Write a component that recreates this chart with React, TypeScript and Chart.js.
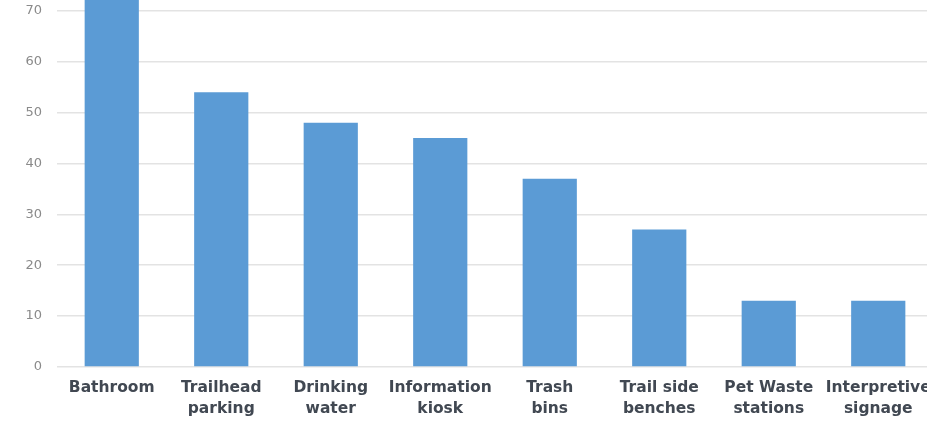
import { useEffect, useRef } from 'react';
import { Chart, registerables } from 'chart.js';
Chart.register(...registerables);

const categories: string[][] = [
  ['Bathroom'],
  ['Trailhead', 'parking'],
  ['Drinking', 'water'],
  ['Information', 'kiosk'],
  ['Trash', 'bins'],
  ['Trail side', 'benches'],
  ['Pet Waste', 'stations'],
  ['Interpretive', 'signage'],
];
const values: number[] = [77, 54, 48, 45, 37, 27, 13, 13];
const yMin = 0;
const yMax = 80;
const yStep = 10;

export default function App() {
  const ref = useRef<HTMLCanvasElement>(null);
  useEffect(() => {
    document.documentElement.style.overflow = 'hidden';
    document.body.style.margin = '0';
    const chart = new Chart(ref.current!, {
      type: 'bar',
      data: {
        labels: categories,
        datasets: [
          {
            data: values,
            backgroundColor: '#5b9bd5',
            borderWidth: 0,
            categoryPercentage: 1,
            barPercentage: 0.495,
          },
        ],
      },
      options: {
        responsive: false,
        animation: false,
        layout: { padding: 0 },
        plugins: { legend: { display: false }, tooltip: { enabled: false } },
        scales: {
          x: {
            grid: { display: false },
            border: { display: false },
            afterFit: (s: any) => {
              s.height = 60;
            },
            ticks: {
              padding: 2,
              maxRotation: 0,
              autoSkip: false,
              color: '#414852',
              font: { family: 'DejaVu Sans', size: 15.5, weight: 'bold', lineHeight: 1.38 },
            },
          },
          y: {
            min: yMin,
            max: yMax,
            ticks: {
              stepSize: yStep,
              padding: 15,
              color: '#8a8a8a',
              font: { family: 'DejaVu Sans', size: 13 },
            },
            afterFit: (s: any) => {
              s.width = 57;
            },
            grid: { color: '#e3e3e3', lineWidth: 1.5, drawTicks: false },
            border: { display: false },
          },
        },
      },
    });
    return () => chart.destroy();
  }, []);
  return (
    <div style={{ position: 'absolute', left: 0, top: -63, width: 933, height: 490, background: '#ffffff' }}>
      <canvas ref={ref} width={933} height={490} />
    </div>
  );
}
